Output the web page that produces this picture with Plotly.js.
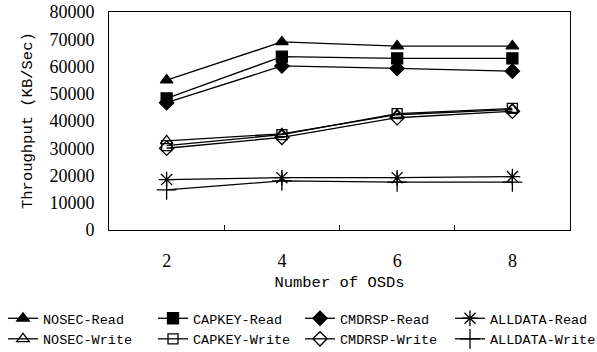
<!DOCTYPE html>
<html><head><meta charset="utf-8">
<script src="https://cdn.plot.ly/plotly-3.0.1.min.js"></script>
<style>html,body{margin:0;padding:0;background:#fff}#c{width:597px;height:352px}</style>
</head><body><div id="c"></div>
<script>
const osds = ["2", "4", "6", "8"];
const names = ["NOSEC-Read","CAPKEY-Read","CMDRSP-Read","ALLDATA-Read","NOSEC-Write","CAPKEY-Write","CMDRSP-Write","ALLDATA-Write"];
const nosecRead   = [55000, 69000, 67500, 67500];
const capkeyRead  = [48300, 63600, 63000, 63000];
const cmdrspRead  = [46700, 60200, 59300, 58300];
const alldataRead = [18500, 19200, 19200, 19600];
const nosecWrite  = [32700, 35300, 42300, 44200];
const capkeyWrite = [31000, 35000, 42700, 44600];
const cmdrspWrite = [30000, 34000, 41200, 43600];
const alldataWrite= [14700, 18000, 17600, 17600];
const yTitle = "Throughput (KB/Sec)";
const xTitle = "Number of OSDs";
const series = [nosecRead, capkeyRead, cmdrspRead, alldataRead, nosecWrite, capkeyWrite, cmdrspWrite, alldataWrite];
const symbols = ["triangle-up","square","diamond","asterisk-open","triangle-up-open","square-open","diamond-open","cross-thin-open"];
const sizes = [11,11,11,13,11,10,11,14];
const legendIds = ["legend","legend2","legend3","legend4","legend","legend2","legend3","legend4"];

const traces = series.map((ys,i)=>({
  x: osds, y: ys, name: names[i], type: "scatter", mode: "lines+markers", legend: legendIds[i],
  line: {color: "#000", width: 1.3},
  marker: {symbol: symbols[i], size: sizes[i], color: i<3 ? "#000" : "#fff", line: {color:"#000", width: 1.3}}
}));
traces.forEach(t=>{ if(t.marker.symbol.includes("open")) t.marker.color="#000"; });

const serif = '"Liberation Serif", "Times New Roman", serif';
const mono = '"Liberation Mono", "Courier New", monospace';
function leg(px){
  return {orientation:"v", xref:"paper", yref:"paper", x:(px-109)/461, y:(230-303)/218, xanchor:"left", yanchor:"top",
    font:{family:mono, size:13.5, color:"#000"}, bgcolor:"rgba(0,0,0,0)", tracegroupgap:0};
}
const layout = {
  width: 597, height: 352,
  margin: {l:109, r:27, t:12, b:122, autoexpand:false},
  paper_bgcolor: "#fff", plot_bgcolor: "#fff",
  showlegend: true,
  xaxis: {type:"category", range:[-0.5,3.5], tickson:"boundaries", ticks:"inside", ticklen:5, tickcolor:"#000",
    showline:true, mirror:true, linecolor:"#000", linewidth:1, showgrid:false, zeroline:false,
    ticklabelstandoff:14, automargin:false,
    tickfont:{family:serif, size:18, color:"#000"},
    title:{text:xTitle, font:{family:mono, size:15.5, color:"#000"}}},
  yaxis: {range:[0,80000], dtick:10000, ticks:"", showline:true, mirror:true, linecolor:"#000", linewidth:1,
    showgrid:false, zeroline:false, tickformat:"d", ticklabelstandoff:10, automargin:false,
    tickfont:{family:serif, size:18, color:"#000"}},
  annotations: [{text:yTitle, xref:"paper", yref:"paper", x:(28-109)/461, y:0.5, xanchor:"center", yanchor:"middle",
    textangle:-90, showarrow:false, font:{family:mono, size:15.5, color:"#000"}}],
  legend: leg(3), legend2: leg(153), legend3: leg(300), legend4: leg(450)
};
Plotly.newPlot("c", traces, layout, {staticPlot:true});
</script></body></html>
